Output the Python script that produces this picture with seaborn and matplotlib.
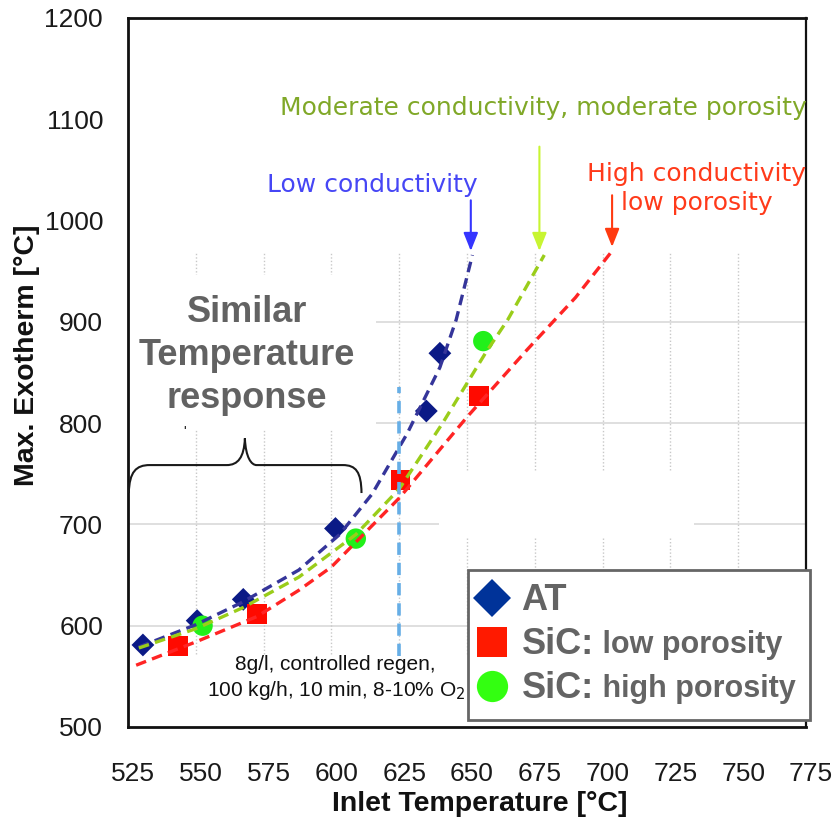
import numpy as np
import pandas as pd
import matplotlib
matplotlib.use("Agg")
import matplotlib.pyplot as plt
import seaborn as sns
from matplotlib.lines import Line2D
from matplotlib.path import Path
from matplotlib.patches import PathPatch, Rectangle
from matplotlib.transforms import ScaledTranslation

# ---------------- data ----------------
at_x = [530.5, 550.5, 567.5, 601.5, 635.0, 640.0]
at_y = [581, 605, 626, 696, 812, 869]
sic_low_x = [543.5, 572.5, 625.5, 654.5]
sic_low_y = [580, 612, 744, 827]
sic_high_x = [552.5, 609.0, 656.0]
sic_high_y = [600, 686, 881]

# dashed trend curves
at_trend_x = [529, 550, 567, 588, 603, 615, 628, 640, 646, 652]
at_trend_y = [579, 601, 623, 655, 690, 730, 790, 855, 902, 966]
high_trend_x = [529, 550, 567.5, 588, 609, 625, 641, 657, 665, 678.5]
high_trend_y = [578, 597, 618, 648, 690, 735, 800, 870, 902, 966]
low_trend_x = [528, 550, 572.5, 588, 600, 625, 650, 672, 690, 703.5]
low_trend_y = [561, 584, 609, 635, 658, 726, 806, 872, 924, 970]

series_names = ["AT", "SiC: low porosity", "SiC: high porosity"]
legend_main = ["AT", "SiC:", "SiC:"]
legend_sub = ["", " low porosity", " high porosity"]

x_ticks = [525, 550, 575, 600, 625, 650, 675, 700, 725, 750, 775]
y_ticks = [500, 600, 700, 800, 900, 1000, 1100, 1200]
grid_y = [600, 700, 800, 900]
grid_x = [550, 575, 600, 625, 650, 675, 700, 725, 750]

ref_line_x = 625
ref_line_y = (570, 836)

# ---------------- style ----------------
sns.set_theme(style="white")
plt.rcParams["font.family"] = ["Liberation Sans", "DejaVu Sans"]

marker_col = {"AT": "#0B1A86", "SiC: low porosity": "#FF0A00", "SiC: high porosity": "#22F01A"}
legend_col = {"AT": "#003399", "SiC: low porosity": "#FF1A00", "SiC: high porosity": "#33FF11"}
line_col = {"AT": "#35359A", "SiC: low porosity": "#FF2424", "SiC: high porosity": "#9ACD1A"}
markers = {"AT": "D", "SiC: low porosity": "s", "SiC: high porosity": "o"}
msize = {"AT": 135, "SiC: low porosity": 205, "SiC: high porosity": 215}

fig = plt.figure(figsize=(8.38, 8.21), dpi=100)
ax = fig.add_axes([128 / 838, 1 - 727 / 821, (806 - 128) / 838, (727 - 18) / 821])

# grid (partial, as in reference)
ax.hlines(grid_y, 525, 775, color="#DCDCDC", lw=1.3, zorder=0)
ax.vlines(grid_x, 572, 968, color="#C8C8C8", lw=1.0, linestyles=(0, (1, 1.5)), zorder=0)
# white cover boxes
ax.add_patch(Rectangle((525, 793), 91.5, 153, facecolor="white", edgecolor="none", zorder=1))
ax.add_patch(Rectangle((639.5, 687.6), 94.3, 65.1, facecolor="white", edgecolor="none", zorder=1))

# points
pts = pd.DataFrame({
    "x": at_x + sic_low_x + sic_high_x,
    "y": at_y + sic_low_y + sic_high_y,
    "series": ["AT"] * len(at_x) + ["SiC: low porosity"] * len(sic_low_x) + ["SiC: high porosity"] * len(sic_high_x),
})
sns.scatterplot(data=pts, x="x", y="y", hue="series", style="series", size="series",
                palette=marker_col, markers=markers, sizes=msize, linewidth=0,
                legend=False, ax=ax, zorder=3)

# trend curves
tr = pd.DataFrame({
    "x": at_trend_x + low_trend_x + high_trend_x,
    "y": at_trend_y + low_trend_y + high_trend_y,
    "series": ["AT"] * len(at_trend_x) + ["SiC: low porosity"] * len(low_trend_x) + ["SiC: high porosity"] * len(high_trend_x),
})
sns.lineplot(data=tr, x="x", y="y", hue="series", style="series", palette=line_col,
             dashes={k: (3.2, 1.9) for k in series_names}, sort=False, estimator=None,
             lw=2.4, legend=False, ax=ax, zorder=4)

# vertical reference line
ax.vlines(ref_line_x, *ref_line_y, color="#66AEE6", lw=2.6, linestyles=(0, (3.4, 2.2)), zorder=5)

# axes
ax.set_xlim(525, 775)
ax.set_ylim(500, 1200)
ax.set_xticks(x_ticks)
ax.set_yticks(y_ticks)
ax.set_xticklabels([str(v) for v in x_ticks], fontsize=19, color="#1a1a1a")
ax.set_yticklabels([str(v) for v in y_ticks], fontsize=19, color="#1a1a1a")
ax.tick_params(axis="both", direction="out", length=10, width=1.5, color="#555555")
ax.tick_params(axis="x", pad=15)
ax.tick_params(axis="y", pad=8)
shift = ScaledTranslation(5 / 100, 0, fig.dpi_scale_trans)
for lab in ax.get_xticklabels():
    lab.set_transform(lab.get_transform() + shift)
for s in ["left", "bottom", "top"]:
    ax.spines[s].set_color("#111111")
    ax.spines[s].set_linewidth(2)
ax.spines["right"].set_color("#111111")
ax.spines["right"].set_linewidth(1.6)
ax.set_xlabel("Inlet Temperature [°C]", fontsize=20.5, fontweight="bold", color="#111111")
ax.set_ylabel("Max. Exotherm [°C]", fontsize=20.5, fontweight="bold", color="#111111")
ax.xaxis.set_label_coords((480 - 128) / 678, (727 - 791) / 709)
ax.yaxis.set_label_coords((40 - 128) / 678, (727 - 355) / 709)

# annotations
ANN = ["DejaVu Sans"]
ax.text(576.2, 1035, "Low conductivity", color="#4646F5", fontsize=18, family=ANN,
        va="center", ha="left", zorder=6)
ax.text(581, 1111, "Moderate conductivity, moderate porosity", color="#80A828", fontsize=18,
        family=ANN, va="center", ha="left", zorder=6)
ax.text(734.6, 1032, "High conductivity\nlow porosity", color="#FF3A1A", fontsize=18, family=ANN,
        va="center", ha="center", linespacing=1.25, zorder=6)

def arrow(x, y0, y1, c):
    ax.annotate("", xy=(x, y1), xytext=(x, y0),
                arrowprops=dict(arrowstyle="-|>,head_width=0.22,head_length=0.55", color=c, lw=1.5,
                                shrinkA=0, shrinkB=0, mutation_scale=20), zorder=6)

arrow(651.4, 1020, 970, "#3535FF")
arrow(676.7, 1073, 970, "#C8F532")
arrow(703.5, 1025, 974, "#FF3A10")

ax.text(568.8, 867, "Similar\nTemperature\nresponse", color="#626262", fontsize=26, fontweight="bold",
        ha="center", va="center", linespacing=1.3, zorder=6)
ax.text(546, 791, "'", color="#111111", fontsize=10, ha="center", va="center", zorder=6)

# curly brace
verts = [(525.3, 731), (525.5, 752), (528, 758.6), (533, 758.6),
         (561.4, 758.6),
         (565.5, 758.6), (567.8, 766), (568.1, 785),
         (568.4, 766), (570.5, 758.6), (572.4, 758.6),
         (604.2, 758.6),
         (609, 758.6), (611, 752), (611.1, 731)]
codes = [Path.MOVETO, Path.CURVE4, Path.CURVE4, Path.CURVE4,
         Path.LINETO,
         Path.CURVE4, Path.CURVE4, Path.CURVE4,
         Path.CURVE4, Path.CURVE4, Path.CURVE4,
         Path.LINETO,
         Path.CURVE4, Path.CURVE4, Path.CURVE4]
ax.add_patch(PathPatch(Path(verts, codes), fill=False, edgecolor="#1a1a1a", lw=1.5, zorder=6))

ax.text(601.6, 548, "8g/l, controlled regen,\n100 kg/h, 10 min, 8-10% O$_2$", fontsize=15,
        color="#111111", ha="center", va="center", linespacing=1.25, zorder=6,
        bbox=dict(facecolor="white", edgecolor="none", pad=1))

# legend
handles = [Line2D([], [], ls="none", marker=markers[k], markerfacecolor=legend_col[k],
                  markeredgewidth=0, markersize={"AT": 19, "SiC: low porosity": 21, "SiC: high porosity": 22.5}[k])
           for k in series_names]
leg = ax.legend(handles, legend_main, loc="lower left",
                bbox_to_anchor=(468 / 838, 1 - 720 / 821, (810 - 468) / 838, (720 - 566) / 821),
                bbox_transform=fig.transFigure, mode="expand", borderaxespad=0,
                prop=dict(family="Liberation Sans", weight="bold", size=26),
                frameon=True, fancybox=False, framealpha=1, edgecolor="#666666",
                handlelength=0.55, handletextpad=0.55, borderpad=0.38, labelspacing=0.25)
leg.get_frame().set_linewidth(2)
leg.set_zorder(10)
for t in leg.get_texts():
    t.set_color("#646464")

fig.canvas.draw()
for t, sub in zip(leg.get_texts(), legend_sub):
    if sub:
        ax.annotate(sub, xy=(1, 0.5), xycoords=t, va="center", ha="left",
                    fontsize=22, fontweight="bold", color="#646464",
                    annotation_clip=False, zorder=11)

fig.savefig("out.png", dpi=100)
